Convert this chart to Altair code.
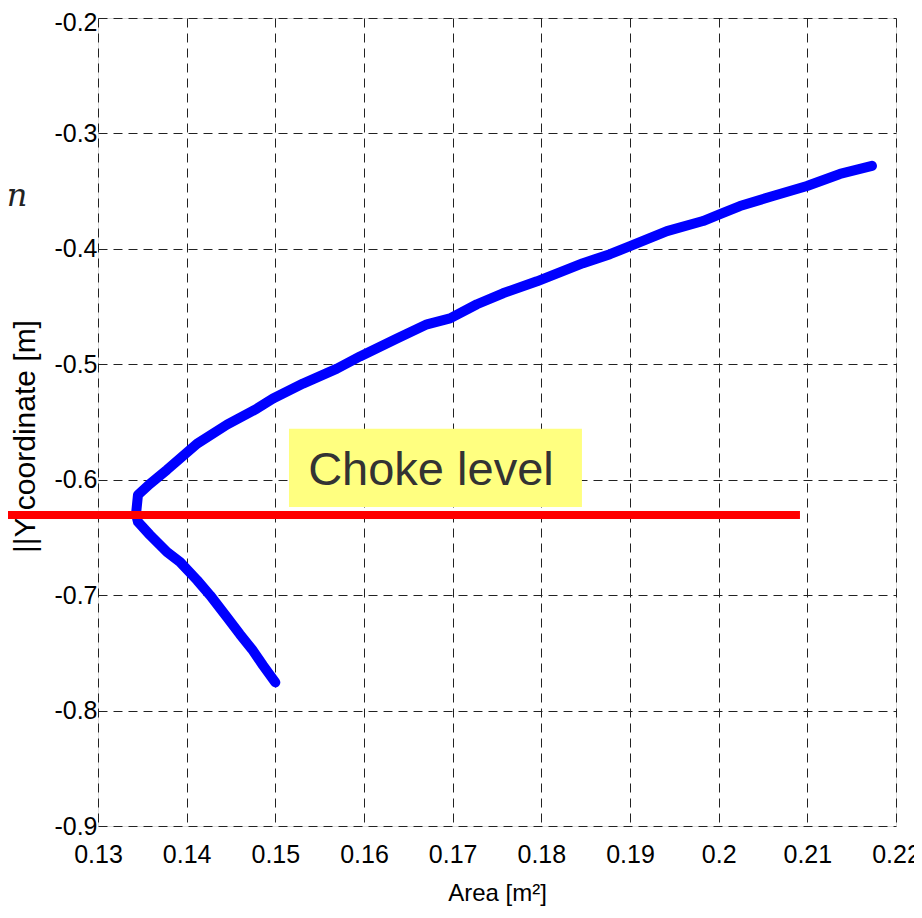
import altair as alt
import pandas as pd

# Blue curve: Area [m^2] vs Y-coordinate [m], ordered along the curve
area = [0.1500, 0.14861, 0.14737, 0.14601, 0.14455, 0.14263, 0.14117, 0.13925,
        0.13778, 0.13586, 0.13451, 0.13429, 0.13451, 0.13586, 0.13778, 0.14117,
        0.14455, 0.14793, 0.14974, 0.15312, 0.15695, 0.15955, 0.16372, 0.16710,
        0.16970, 0.17274, 0.17567, 0.17951, 0.18470, 0.18774, 0.19000, 0.19417,
        0.19823, 0.20015, 0.20240, 0.20612, 0.20996, 0.21368, 0.21729]
ycoord = [-0.7756, -0.7608, -0.7469, -0.7339, -0.7191, -0.7000, -0.6870, -0.6713,
          -0.6627, -0.6479, -0.6366, -0.6297, -0.6131, -0.6036, -0.5914, -0.5688,
          -0.5523, -0.5384, -0.5297, -0.5167, -0.5037, -0.4932, -0.4776, -0.4654,
          -0.4602, -0.4480, -0.4385, -0.4281, -0.4124, -0.4046, -0.3977, -0.3846,
          -0.3759, -0.3699, -0.3629, -0.3542, -0.3455, -0.3351, -0.3281]

# Choke level line
choke_y = [-0.6305]
choke_x0 = [0.11895]
choke_x1 = [0.20917]

# Annotation box "Choke level"
box_x0 = [0.15154]
box_x1 = [0.18458]
box_y0 = [-0.5558]
box_y1 = [-0.6236]
label_text = ["Choke level"]
label_x = [0.15370]
label_y = [-0.6044]

# stray math glyph at the left
glyph_text = ["n"]
glyph_x = [0.12087]
glyph_y = [-0.3629]

x_ticks = [0.13, 0.14, 0.15, 0.16, 0.17, 0.18, 0.19, 0.20, 0.21, 0.22]
y_ticks = [-0.9, -0.8, -0.7, -0.6, -0.5, -0.4, -0.3, -0.2]

FONT = "Liberation Sans"

xscale = alt.Scale(domain=[0.13, 0.22], nice=False, zero=False)
yscale = alt.Scale(domain=[-0.9, -0.2], nice=False, zero=False)

xaxis = alt.Axis(
    title="Area [m²]", values=x_ticks,
    labelExpr="replace(toString(round(datum.value*100)/100), '\u2212', '-')",
    grid=True, gridColor="#222222", gridDash=[9, 6], gridWidth=1,
    ticks=False, domain=False, labelFlush=False, labelOverlap=False,
    labelFont=FONT, labelFontSize=25, labelColor="black", labelPadding=16,
    labelBaseline="top",
    titleFont=FONT, titleFontSize=24, titleFontWeight="normal", titleColor="black",
    titleY=74, titleBaseline="alphabetic",
)
yaxis = alt.Axis(
    title="||Y-coordinate [m]", values=y_ticks,
    labelExpr="replace(format(datum.value, '.1f'), '\u2212', '-')",
    grid=True, gridColor="#222222", gridDash=[9, 6], gridWidth=1,
    ticks=False, domain=False, labelFlush=False, labelOverlap=False,
    labelFont=FONT, labelFontSize=25, labelColor="black", labelPadding=1,
    labelOffset={"condition": {"test": "datum.value > -0.25", "value": 4}, "value": 0},
    titleFont=FONT, titleFontSize=30, titleFontWeight="normal", titleColor="black",
    titleX=-73, titleY=418, titleAngle=270, titleAlign="center", titleBaseline="middle",
)

X = alt.X("x:Q", scale=xscale, axis=xaxis)
Y = alt.Y("y:Q", scale=yscale, axis=yaxis)

curve_df = pd.DataFrame({"x": area, "y": ycoord, "i": list(range(len(area)))})
box_df = pd.DataFrame({"x": box_x0, "x2": box_x1, "y": box_y0, "y2": box_y1})
label_df = pd.DataFrame({"x": label_x, "y": label_y, "t": label_text})
choke_df = pd.DataFrame({"x": choke_x0, "x2": choke_x1, "y": choke_y})
glyph_df = pd.DataFrame({"x": glyph_x, "y": glyph_y, "t": glyph_text})

box = alt.Chart(box_df).mark_rect(color="#FFFF80", clip=False).encode(
    x=X, x2="x2:Q", y=Y, y2="y2:Q")
label = alt.Chart(label_df).mark_text(
    font=FONT, fontSize=47, color="#333333", align="left", baseline="alphabetic"
).encode(x=X, y=Y, text="t:N")
curve = alt.Chart(curve_df).mark_line(
    color="#0000FF", strokeWidth=10, strokeCap="round", strokeJoin="round"
).encode(x=X, y=Y, order="i:Q")
choke = alt.Chart(choke_df).mark_rule(color="#FF0000", strokeWidth=8, clip=False).encode(
    x=X, x2="x2:Q", y=Y)
glyph = alt.Chart(glyph_df).mark_text(
    font="DejaVu Serif", fontStyle="italic", fontSize=32, color="#222222",
    align="center", baseline="alphabetic", clip=False
).encode(x=X, y=Y, text="t:N")

chart = alt.layer(box, label, curve, choke, glyph).properties(
    width=798, height=808,
    autosize=alt.AutoSizeParams(type="none"),
    padding={"left": 90, "top": 10, "right": 18, "bottom": 80},
).configure_view(stroke="black", strokeWidth=1).configure(background="white")

chart.save("out.html", embed_options={"renderer": "svg", "actions": False})
